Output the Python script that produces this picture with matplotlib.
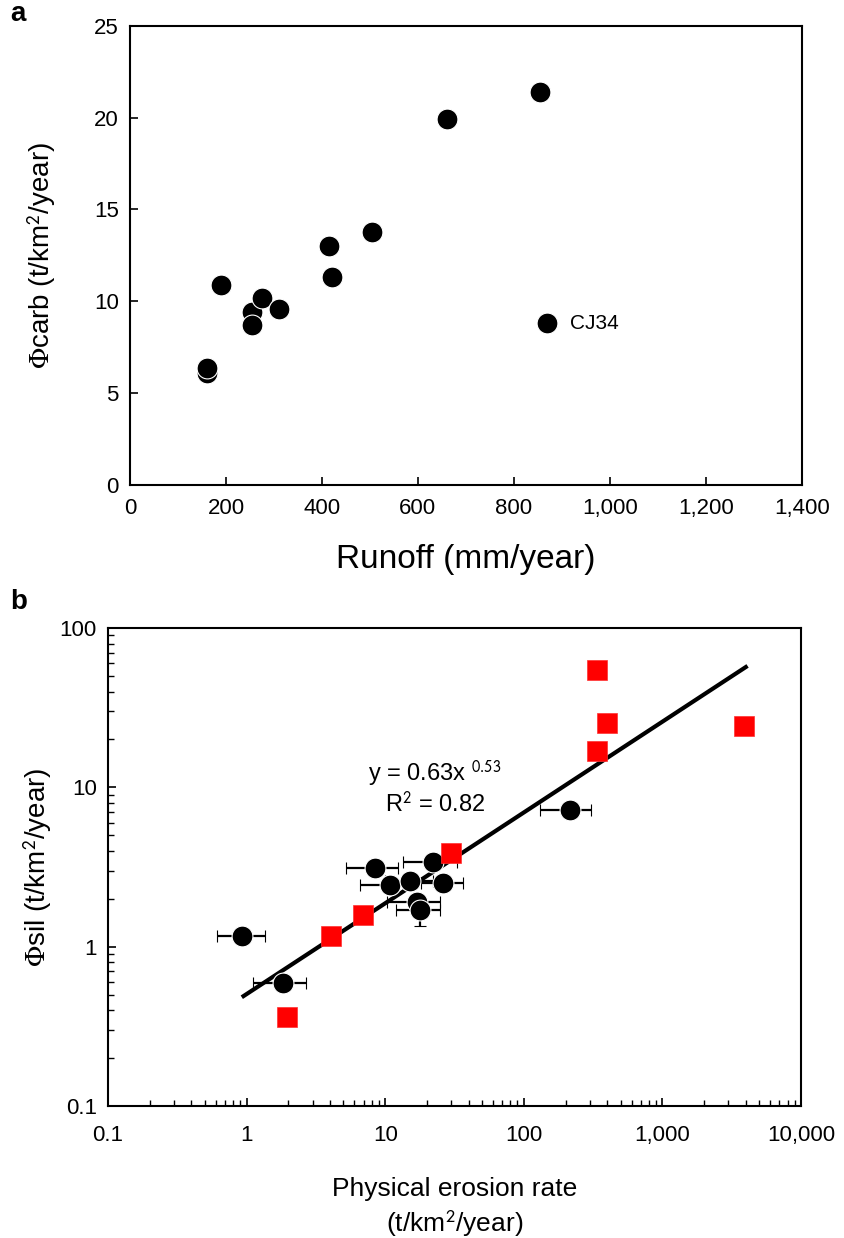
import numpy as np
import matplotlib
matplotlib.use('Agg')
import matplotlib.pyplot as plt
from matplotlib.ticker import FuncFormatter, FixedLocator, LogLocator, NullFormatter

plt.rcParams['font.family'] = ['Liberation Sans', 'DejaVu Sans']
plt.rcParams['mathtext.fontset'] = 'stix'

# panel a: runoff vs carbonate weathering flux
runoff = [160, 160, 190, 255, 255, 275, 310, 415, 420, 505, 660, 855, 870]
phi_carb = [6.1, 6.35, 10.9, 9.4, 8.7, 10.2, 9.6, 13.0, 11.3, 13.8, 19.9, 21.4, 8.8]
cj34_runoff = 870
cj34_phi = 8.8

# panel b: black circles (with error bars)
ero_black = [0.93, 1.83, 8.4, 10.8, 15.1, 22.0, 26.0, 17.0, 17.7, 215]
sil_black = [1.17, 0.59, 3.1, 2.45, 2.6, 3.4, 2.5, 1.9, 1.7, 7.2]
ero_lo = [0.61, 1.11, 5.2, 6.6, 10.0, 13.4, 18.0, 10.3, 12.0, 130]
ero_hi = [1.36, 2.68, 12.3, 15.0, 22.0, 33.0, 36.4, 24.7, 25.0, 306]
sil_lo = [1.17, 0.55, 3.1, 2.45, 2.6, 3.4, 2.5, 1.9, 1.35, 7.2]
sil_hi = [1.17, 0.62, 3.1, 2.45, 2.6, 3.4, 2.5, 1.9, 2.0, 7.2]

# panel b: red squares
ero_red = [1.96, 4.06, 6.9, 29.8, 337, 398, 337, 3900]
sil_red = [0.36, 1.16, 1.58, 3.88, 54.6, 25.4, 16.9, 24.3]

# power-law fit line y = 0.63x^0.53 (end points as drawn)
fit_x = [0.95, 4000]
fit_y = [0.49, 57]


def comma_fmt(v, pos):
    if v >= 1:
        return '{:,.0f}'.format(v)
    return '{:g}'.format(v)


fig = plt.figure(figsize=(8.44, 12.38), dpi=100)

# ---- panel a
ax1 = fig.add_axes([0.154, 0.6082, 0.796, 0.371])
ax1.plot(runoff, phi_carb, 'o', color='black', markersize=15,
         markeredgecolor='white', markeredgewidth=0.8, zorder=3)
ax1.annotate('CJ34', (cj34_runoff, cj34_phi), xytext=(16, 0),
             textcoords='offset points', va='center', fontsize=15)
ax1.set_xlim(0, 1400)
ax1.set_ylim(0, 25)
ax1.set_xticks(np.arange(0, 1401, 200))
ax1.set_yticks(np.arange(0, 26, 5))
ax1.xaxis.set_major_formatter(FuncFormatter(comma_fmt))
ax1.tick_params(direction='in', length=6, width=1.2, labelsize=16)
ax1.tick_params(axis='x', pad=9)
ax1.tick_params(axis='y', pad=8)
ax1.set_xlabel('Runoff (mm/year)', fontsize=24, labelpad=18)
ax1.set_ylabel(r'$\Phi$carb (t/km$^{\mathsf{2}}$/year)', fontsize=20, labelpad=26)
for s in ax1.spines.values():
    s.set_linewidth(1.5)
fig.text(0.012, 0.999, 'a', fontsize=20, fontweight='bold', va='top')

# ---- panel b
ax2 = fig.add_axes([0.128, 0.1066, 0.821, 0.386])
ax2.set_xscale('log')
ax2.set_yscale('log')
ax2.plot(fit_x, fit_y, color='black', linewidth=3, zorder=2)
xerr = [np.array(ero_black) - np.array(ero_lo), np.array(ero_hi) - np.array(ero_black)]
yerr = [np.array(sil_black) - np.array(sil_lo), np.array(sil_hi) - np.array(sil_black)]
ax2.errorbar(ero_black, sil_black, xerr=xerr, yerr=yerr, fmt='o', color='black',
             markersize=15, markeredgecolor='white', markeredgewidth=0.8,
             ecolor='black', elinewidth=1.6, capsize=4, capthick=1.6, zorder=3)
ax2.plot(ero_red, sil_red, 's', color='#ff0000', markersize=15,
         markeredgecolor='#ff3030', markeredgewidth=0.5, zorder=4)
ax2.text(0.472, 0.695, r'y = 0.63x $^{\mathsf{0.53}}$', transform=ax2.transAxes,
         ha='center', va='center', fontsize=17)
ax2.text(0.472, 0.632, r'R$^{\mathsf{2}}$ = 0.82', transform=ax2.transAxes,
         ha='center', va='center', fontsize=17)
ax2.set_xlim(0.1, 10000)
ax2.set_ylim(0.1, 100)
ax2.xaxis.set_major_locator(FixedLocator([0.1, 1, 10, 100, 1000, 10000]))
ax2.yaxis.set_major_locator(FixedLocator([0.1, 1, 10, 100]))
ax2.xaxis.set_minor_locator(LogLocator(base=10, subs=np.arange(2, 10)))
ax2.yaxis.set_minor_locator(LogLocator(base=10, subs=np.arange(2, 10)))
ax2.xaxis.set_minor_formatter(NullFormatter())
ax2.yaxis.set_minor_formatter(NullFormatter())
ax2.xaxis.set_major_formatter(FuncFormatter(comma_fmt))
ax2.yaxis.set_major_formatter(FuncFormatter(comma_fmt))
ax2.tick_params(which='major', direction='in', length=6, width=1.2, labelsize=16)
ax2.tick_params(which='minor', direction='in', length=4, width=1.0)
ax2.tick_params(axis='x', which='both', pad=14)
ax2.tick_params(axis='y', which='both', pad=8)
ax2.set_xlabel('Physical erosion rate\n(t/km$^{\\mathsf{2}}$/year)', fontsize=19,
               labelpad=22, linespacing=1.3)
ax2.set_ylabel(r'$\Phi$sil (t/km$^{\mathsf{2}}$/year)', fontsize=20, labelpad=4)
for s in ax2.spines.values():
    s.set_linewidth(1.5)
fig.text(0.012, 0.524, 'b', fontsize=20, fontweight='bold', va='top')

fig.savefig('out.png', dpi=100)
